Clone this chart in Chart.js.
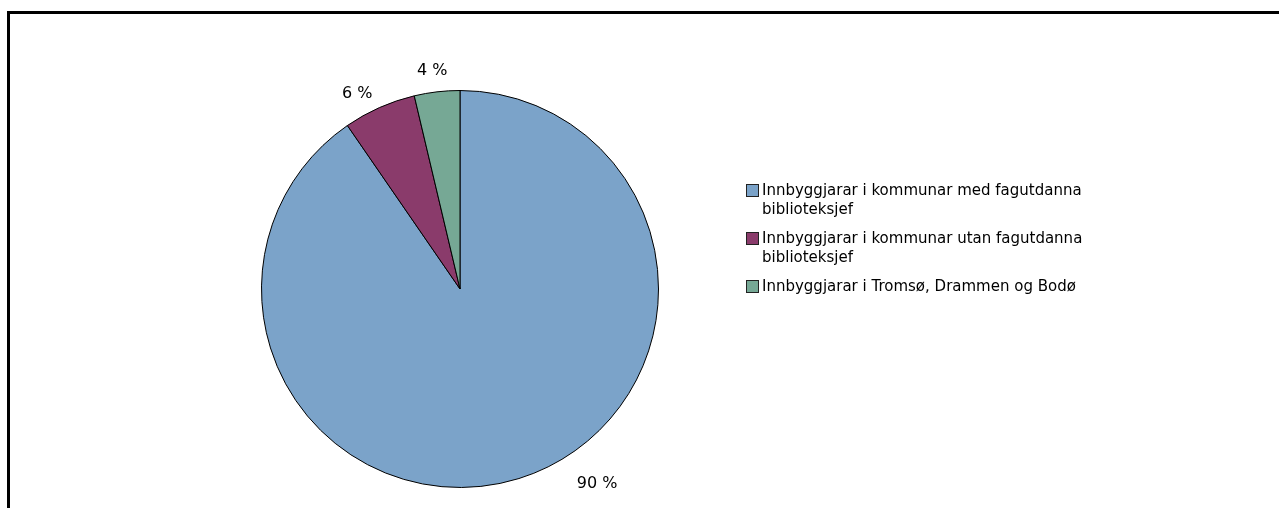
<!DOCTYPE html>
<html lang="nn">
  <head>
    <meta charset="UTF-8" />
    <title>Innbyggjarar og fagutdanna biblioteksjef</title>
    <style>
      html, body {
        margin: 0;
        padding: 0;
        background: #fff;
        overflow: hidden;
      }

      .wrap {
        position: relative;
        width: 1279px;
        height: 508px;
        font-family: "DejaVu Sans", sans-serif;
        color: #000;
      }

      .frame {
        position: absolute;
        left: 7px;
        top: 11px;
        width: 1290px;
        height: 520px;
        border-left: 3px solid #000;
        border-top: 3px solid #000;
      }

      canvas {
        position: absolute;
        left: 0;
        top: 0;
      }

      .legend {
        position: absolute;
        left: 746px;
        top: 181px;
        width: 360px;
        font-size: 15px;
        line-height: 18.5px;
      }

      .legend-item {
        position: relative;
        padding-left: 16px;
        margin-bottom: 11px;
      }

      .legend-box {
        position: absolute;
        left: 0;
        top: 3px;
        width: 11px;
        height: 11px;
        border: 1px solid #222;
      }
    </style>
  </head>
  <body>
    <div class="wrap">
      <div class="frame"></div>
      <canvas id="pie" width="1279" height="508"></canvas>
      <div class="legend" id="legend"></div>
    </div>
    <script src="https://cdn.jsdelivr.net/npm/chart.js@4.4.2/dist/chart.umd.min.js"></script>
    <script>
      // Share of inhabitants (%)
      const categories = [
        "Innbyggjarar i kommunar med fagutdanna biblioteksjef",
        "Innbyggjarar i kommunar utan fagutdanna biblioteksjef",
        "Innbyggjarar i Tromsø, Drammen og Bodø",
      ];
      const shares = [90.4, 5.9, 3.7];
      const legendLines = [
        ["Innbyggjarar i kommunar med fagutdanna", "biblioteksjef"],
        ["Innbyggjarar i kommunar utan fagutdanna", "biblioteksjef"],
        ["Innbyggjarar i Tromsø, Drammen og Bodø"],
      ];

      const sliceColors = ["#7ba3c9", "#8a3b6b", "#76a895"];
      // label placement tweaks (Excel style "outside end" labels)
      const labelAngleShift = [-17.9, -3.8, -0.6];
      const labelRadius = [238, 221, 220];

      const legend = document.getElementById("legend");
      categories.forEach((name, i) => {
        const item = document.createElement("div");
        item.className = "legend-item";
        item.title = name;
        const box = document.createElement("span");
        box.className = "legend-box";
        box.style.background = sliceColors[i];
        item.appendChild(box);
        legendLines[i].forEach((line) => {
          const row = document.createElement("div");
          row.textContent = line;
          item.appendChild(row);
        });
        legend.appendChild(item);
      });

      const pctLabels = {
        id: "pctLabels",
        afterDatasetsDraw(chart) {
          const { ctx } = chart;
          const meta = chart.getDatasetMeta(0);
          ctx.save();
          ctx.font = "16px 'DejaVu Sans', sans-serif";
          ctx.fillStyle = "#000";
          ctx.textAlign = "center";
          ctx.textBaseline = "middle";
          meta.data.forEach((arc, i) => {
            const { x, y, startAngle, endAngle } = arc.getProps(
              ["x", "y", "startAngle", "endAngle"],
              true
            );
            const mid = (startAngle + endAngle) / 2 + (labelAngleShift[i] * Math.PI) / 180;
            const r = labelRadius[i];
            const text = Math.round(shares[i]) + " %";
            ctx.fillText(text, x + Math.cos(mid) * r, y + Math.sin(mid) * r);
          });
          ctx.restore();
        },
      };

      new Chart(document.getElementById("pie"), {
        type: "pie",
        data: {
          labels: categories,
          datasets: [
            {
              data: shares,
              backgroundColor: sliceColors,
              borderColor: "#000",
              borderWidth: 1,
            },
          ],
        },
        options: {
          responsive: false,
          animation: false,
          events: [],
          layout: { padding: { left: 261, top: 90, right: 620, bottom: 20 } },
          plugins: {
            legend: { display: false },
            tooltip: { enabled: false },
          },
        },
        plugins: [pctLabels],
      });
    </script>
  </body>
</html>
